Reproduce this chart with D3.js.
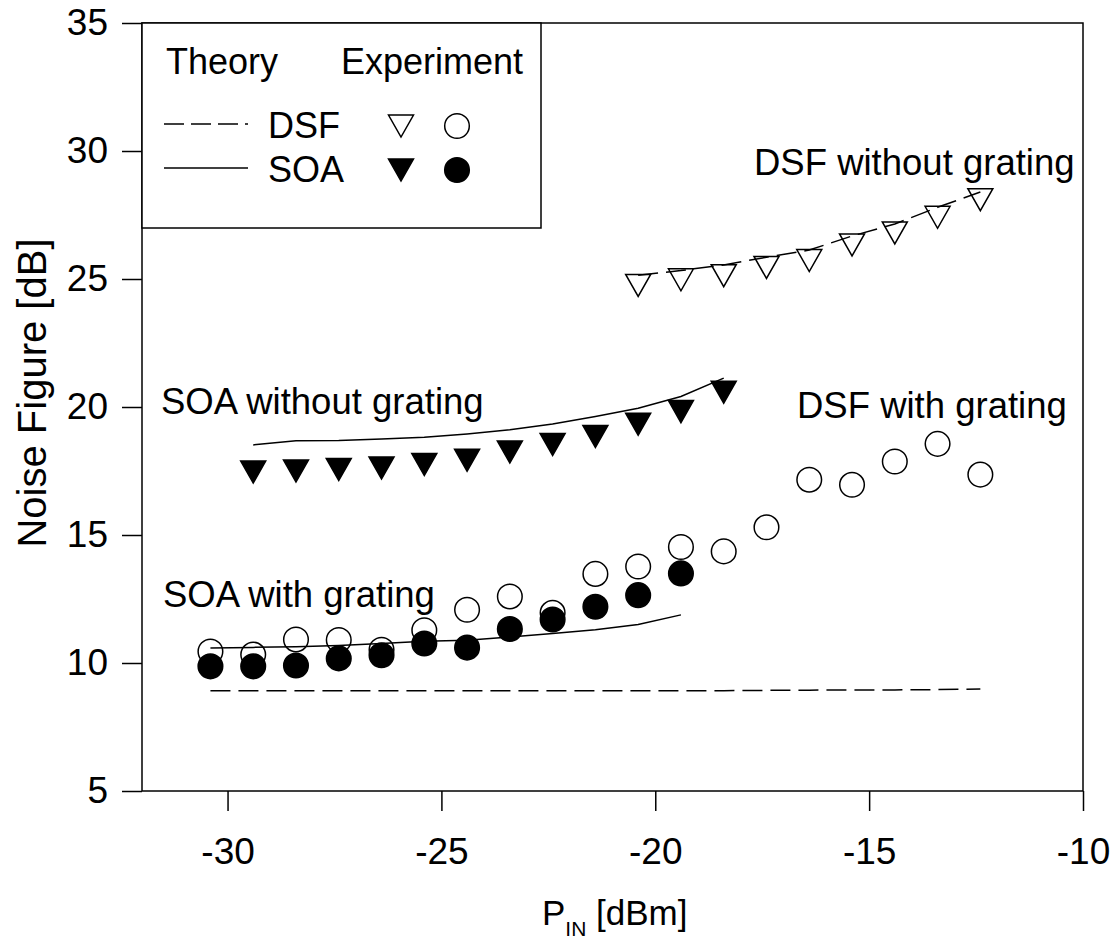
<!DOCTYPE html>
<html>
<head>
<meta charset="utf-8">
<script src="https://cdn.jsdelivr.net/npm/d3@7"></script>
<style>
  body { margin: 0; background: #fff; }
  text { font-family: "Liberation Sans", Arial, sans-serif; fill: #000; }
</style>
</head>
<body>
<div id="chart"></div>
<script>
// input power values [dBm]
const pinLong = [-30.4, -29.4, -28.4, -27.4, -26.4, -25.4, -24.4, -23.4, -22.4, -21.4,
                 -20.4, -19.4, -18.4, -17.4, -16.4, -15.4, -14.4, -13.4, -12.4];
const pinSoaGrating = [-30.4, -29.4, -28.4, -27.4, -26.4, -25.4, -24.4, -23.4, -22.4, -21.4, -20.4, -19.4];
const pinSoaNoGrating = [-29.4, -28.4, -27.4, -26.4, -25.4, -24.4, -23.4, -22.4, -21.4, -20.4, -19.4, -18.4];
const pinDsfNoGrating = [-20.4, -19.4, -18.4, -17.4, -16.4, -15.4, -14.4, -13.4, -12.4];

// experiment
const expDsfGrating = [10.45, 10.33, 10.92, 10.9, 10.52, 11.28, 12.08, 12.6, 11.96, 13.48,
                       13.77, 14.53, 14.36, 15.3, 17.16, 16.96, 17.87, 18.56, 17.36];
const expSoaGrating = [9.87, 9.87, 9.9, 10.18, 10.3, 10.76, 10.6, 11.33, 11.7, 12.2, 12.65, 13.5];
const expSoaNoGrating = [17.46, 17.5, 17.56, 17.62, 17.75, 17.92, 18.24, 18.54, 18.85, 19.33, 19.82, 20.58];
const expDsfNoGrating = [24.75, 24.97, 25.13, 25.45, 25.72, 26.33, 26.8, 27.41, 28.1];

// theory
const thDsfGrating = [8.92, 8.92, 8.92, 8.92, 8.92, 8.92, 8.92, 8.92, 8.92, 8.92,
                      8.92, 8.92, 8.92, 8.93, 8.94, 8.95, 8.95, 8.96, 8.98];
const thSoaGrating = [10.59, 10.61, 10.63, 10.68, 10.76, 10.85, 10.89, 11.02, 11.15, 11.3, 11.5, 11.88];
const thSoaNoGrating = [18.52, 18.68, 18.69, 18.75, 18.82, 18.95, 19.11, 19.34, 19.63, 19.95, 20.41, 21.13];
const thDsfNoGrating = [25.15, 25.33, 25.55, 25.85, 26.13, 26.68, 27.15, 27.8, 28.4];

const xTicks = [-30, -25, -20, -15, -10];
const yTicks = [5, 10, 15, 20, 25, 30, 35];

const W = 1117, H = 940;
const margin = {top: 23, right: 34, bottom: 149, left: 142};
const width = W - margin.left - margin.right;
const height = H - margin.top - margin.bottom;

const svg = d3.select("#chart").append("svg")
  .attr("width", W)
  .attr("height", H);

const g = svg.append("g")
  .attr("transform", `translate(${margin.left},${margin.top})`);

const x = d3.scaleLinear().domain([-32, -10]).range([0, width]);
const y = d3.scaleLinear().domain([5, 35]).range([height, 0]);

// axes
g.append("g")
  .attr("transform", `translate(0,${height})`)
  .call(d3.axisBottom(x).tickValues(xTicks).tickSize(20).tickPadding(27).tickFormat(d3.format("d")))
  .call(a => a.select(".domain").remove())
  .call(a => a.selectAll("line").attr("stroke", "#000").attr("stroke-width", 1.5))
  .call(a => a.selectAll("text").attr("font-size", 37).attr("font-family", null).text(d => String(d)));

g.append("g")
  .call(d3.axisLeft(y).tickValues(yTicks).tickSize(20).tickPadding(14).tickFormat(d3.format("d")))
  .call(a => a.select(".domain").remove())
  .call(a => a.selectAll("line").attr("stroke", "#000").attr("stroke-width", 1.5))
  .call(a => a.selectAll("text").attr("font-size", 37).attr("font-family", null));

g.append("rect")
  .attr("width", width)
  .attr("height", height)
  .attr("fill", "none")
  .attr("stroke", "#000")
  .attr("stroke-width", 1.5);

// axis titles
svg.append("text")
  .attr("transform", `translate(46,${margin.top + 370}) rotate(-90)`)
  .attr("text-anchor", "middle")
  .attr("font-size", 40)
  .text("Noise Figure [dB]");

const xTitle = svg.append("text")
  .attr("x", 542)
  .attr("y", 925)
  .attr("font-size", 35);
xTitle.append("tspan").text("P");
xTitle.append("tspan").attr("font-size", 21).attr("dy", 11).text("IN");
xTitle.append("tspan").attr("dy", -11).text(" [dBm]");

// theory curves
const line = d3.line().x(d => x(d[0])).y(d => y(d[1]));
const zip = (xs, ys) => xs.map((v, i) => [v, ys[i]]);

const curves = [
  {data: zip(pinLong, thDsfGrating), dash: "20,8"},
  {data: zip(pinSoaGrating, thSoaGrating), dash: null},
  {data: zip(pinSoaNoGrating, thSoaNoGrating), dash: null},
  {data: zip(pinDsfNoGrating, thDsfNoGrating), dash: "20,8"}
];

g.append("g")
  .selectAll("path")
  .data(curves)
  .join("path")
    .attr("d", d => line(d.data))
    .attr("fill", "none")
    .attr("stroke", "#000")
    .attr("stroke-width", 1.5)
    .attr("stroke-dasharray", d => d.dash);

// markers
const tri = "M-12.5,-11L12.5,-11L0,11Z";
const circleR = 12.3;

function drawCircles(xs, ys, filled) {
  g.append("g")
    .selectAll("circle")
    .data(zip(xs, ys))
    .join("circle")
      .attr("cx", d => x(d[0]))
      .attr("cy", d => y(d[1]))
      .attr("r", circleR)
      .attr("fill", filled ? "#000" : "none")
      .attr("stroke", "#000")
      .attr("stroke-width", 1.5);
}

function drawTriangles(xs, ys, filled) {
  g.append("g")
    .selectAll("path")
    .data(zip(xs, ys))
    .join("path")
      .attr("d", tri)
      .attr("transform", d => `translate(${x(d[0])},${y(d[1])})`)
      .attr("fill", filled ? "#000" : "none")
      .attr("stroke", "#000")
      .attr("stroke-width", 1.5);
}

drawCircles(pinLong, expDsfGrating, false);
drawCircles(pinSoaGrating, expSoaGrating, true);
drawTriangles(pinSoaNoGrating, expSoaNoGrating, true);
drawTriangles(pinDsfNoGrating, expDsfNoGrating, false);

// annotations
const notes = [
  {text: "DSF without grating", x: 754, y: 175},
  {text: "SOA without grating", x: 161, y: 414},
  {text: "DSF with grating", x: 797, y: 418},
  {text: "SOA with grating", x: 163, y: 607}
];
svg.append("g")
  .selectAll("text")
  .data(notes)
  .join("text")
    .attr("x", d => d.x)
    .attr("y", d => d.y)
    .attr("font-size", 36.5)
    .text(d => d.text);

// legend
const lg = svg.append("g");
lg.append("rect")
  .attr("x", margin.left)
  .attr("y", margin.top)
  .attr("width", 541 - margin.left)
  .attr("height", 228 - margin.top)
  .attr("fill", "#fff")
  .attr("stroke", "#000")
  .attr("stroke-width", 1.5);

lg.append("text").attr("x", 166).attr("y", 74).attr("font-size", 36).text("Theory");
lg.append("text").attr("x", 341).attr("y", 74).attr("font-size", 36).text("Experiment");

const legendRows = [
  {label: "DSF", dash: "20,7", filled: false, y: 126},
  {label: "SOA", dash: null, filled: true, y: 170}
];

legendRows.forEach(r => {
  lg.append("line")
    .attr("x1", 164).attr("x2", 248)
    .attr("y1", r.y - 2).attr("y2", r.y - 2)
    .attr("stroke", "#000")
    .attr("stroke-width", 1.5)
    .attr("stroke-dasharray", r.dash);
  lg.append("text")
    .attr("x", 268).attr("y", r.y + 12)
    .attr("font-size", 36)
    .text(r.label);
  lg.append("path")
    .attr("d", tri)
    .attr("transform", `translate(401,${r.y})`)
    .attr("fill", r.filled ? "#000" : "none")
    .attr("stroke", "#000")
    .attr("stroke-width", 1.5);
  lg.append("circle")
    .attr("cx", 457).attr("cy", r.y)
    .attr("r", circleR)
    .attr("fill", r.filled ? "#000" : "none")
    .attr("stroke", "#000")
    .attr("stroke-width", 1.5);
});
</script>
</body>
</html>
